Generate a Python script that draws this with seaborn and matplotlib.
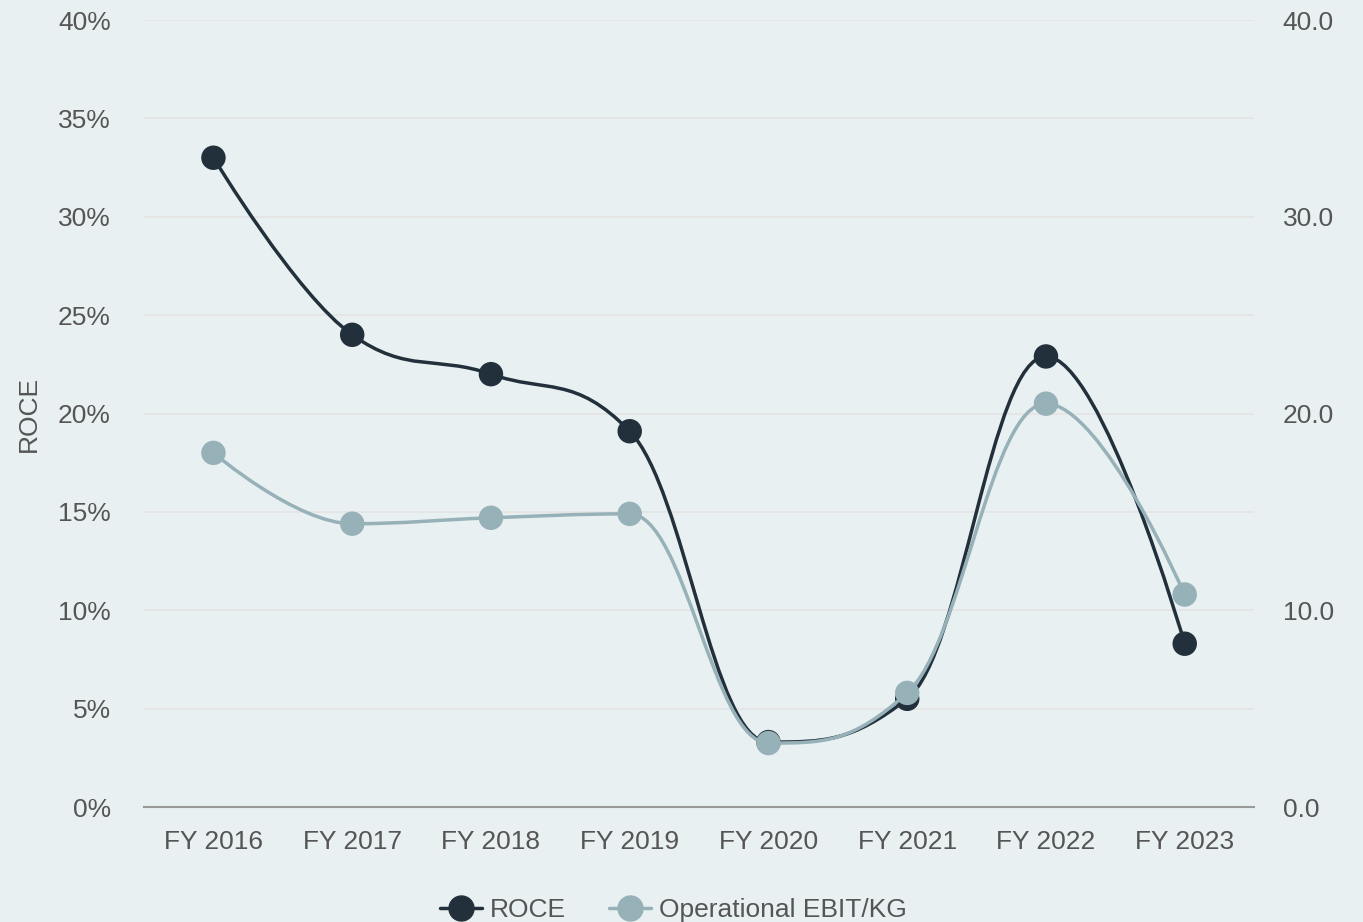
import numpy as np
import pandas as pd
import seaborn as sns
import matplotlib.pyplot as plt
from matplotlib.path import Path
from matplotlib.patches import PathPatch
from matplotlib.lines import Line2D
from matplotlib.ticker import FuncFormatter

years = ["FY 2016", "FY 2017", "FY 2018", "FY 2019", "FY 2020", "FY 2021", "FY 2022", "FY 2023"]
roce = [33.0, 24.0, 22.0, 19.1, 3.3, 5.5, 22.9, 8.3]
ebit_kg = [18.0, 14.4, 14.7, 14.9, 3.25, 5.8, 20.5, 10.8]

BG = "#e8f0f2"
DARK = "#22303c"
LIGHT = "#97b1b8"
TXT = "#555555"
FS = 19


def spline_path(xs, ys, smoothing=1.5):
    # highcharts-like spline, built as cubic bezier segments
    n = len(xs)
    lc = [(xs[i], ys[i]) for i in range(n)]
    rc = [(xs[i], ys[i]) for i in range(n)]
    for i in range(1, n - 1):
        x, y = xs[i], ys[i]
        lx, ly = xs[i - 1], ys[i - 1]
        nx, ny = xs[i + 1], ys[i + 1]
        d = smoothing + 1
        lcx = (smoothing * x + lx) / d
        lcy = (smoothing * y + ly) / d
        rcx = (smoothing * x + nx) / d
        rcy = (smoothing * y + ny) / d
        corr = (rcy - lcy) * (rcx - x) / (rcx - lcx) + y - rcy
        lcy += corr
        rcy += corr
        if lcy > ly and lcy > y:
            lcy = max(ly, y)
            rcy = 2 * y - lcy
        elif lcy < ly and lcy < y:
            lcy = min(ly, y)
            rcy = 2 * y - lcy
        if rcy > ny and rcy > y:
            rcy = max(ny, y)
            lcy = 2 * y - rcy
        elif rcy < ny and rcy < y:
            rcy = min(ny, y)
            lcy = 2 * y - rcy
        lc[i] = (lcx, lcy)
        rc[i] = (rcx, rcy)
    verts = [(xs[0], ys[0])]
    codes = [Path.MOVETO]
    for i in range(1, n):
        verts += [rc[i - 1], lc[i], (xs[i], ys[i])]
        codes += [Path.CURVE4] * 3
    return Path(verts, codes)


sns.set_theme(style="white")
plt.rcParams["font.family"] = ["Liberation Sans", "DejaVu Sans"]

df = pd.DataFrame({"year": years, "x": np.arange(len(years)), "roce": roce, "ebit": ebit_kg})

fig = plt.figure(figsize=(13.63, 9.22), dpi=100, facecolor=BG)
ax = fig.add_axes([0.1057, 0.1247, 0.8144, 0.8536])
ax.set_facecolor(BG)
ax2 = ax.twinx()

ax.set_xlim(-0.5, len(years) - 0.5)
ax.set_ylim(0, 40)
ax2.set_ylim(0, 40)

ax.set_yticks(np.arange(0, 41, 5))
ax.yaxis.set_major_formatter(FuncFormatter(lambda v, p: f"{v:.0f}%"))
ax2.set_yticks(np.arange(0, 41, 10))
ax2.yaxis.set_major_formatter(FuncFormatter(lambda v, p: f"{v:.1f}"))
ax.set_xticks(df["x"])
ax.set_xticklabels(years)

ax.grid(axis="y", color="#e6e3e3", linewidth=1.2)
ax.set_axisbelow(True)
for a in (ax, ax2):
    for s in a.spines.values():
        s.set_visible(False)
ax.spines["bottom"].set_visible(True)
ax.spines["bottom"].set_color("#999999")
ax.spines["bottom"].set_linewidth(1.5)

ax.tick_params(axis="y", length=0, pad=24, labelsize=FS, labelcolor=TXT)
ax.tick_params(axis="x", length=0, pad=16.5, labelsize=FS, labelcolor=TXT)
ax2.tick_params(axis="y", length=0, pad=20.5, labelsize=FS, labelcolor=TXT)
ax.set_ylabel("ROCE", fontsize=FS, color=TXT, labelpad=12)

ax.add_patch(PathPatch(spline_path(df["x"].tolist(), df["roce"].tolist()),
                       facecolor="none", edgecolor=DARK, lw=2.5, zorder=3))
ax2.add_patch(PathPatch(spline_path(df["x"].tolist(), df["ebit"].tolist()),
                        facecolor="none", edgecolor=LIGHT, lw=2.5, zorder=3))
sns.scatterplot(data=df, x="x", y="roce", ax=ax, s=310, color=DARK, edgecolor="none", zorder=4)
sns.scatterplot(data=df, x="x", y="ebit", ax=ax2, s=310, color=LIGHT, edgecolor="none", zorder=4)
ax.set_xlabel("")
ax2.set_xlabel("")
ax2.set_ylabel("")

handles = [Line2D([], [], color=DARK, lw=2.5, marker="o", markersize=18),
           Line2D([], [], color=LIGHT, lw=2.5, marker="o", markersize=18)]
fig.legend(handles, ["ROCE", "Operational EBIT/KG"], loc="center", bbox_to_anchor=(0.494, 0.013),
           ncol=2, frameon=False, fontsize=FS, labelcolor=TXT, handlelength=1.6,
           handletextpad=0.3, columnspacing=1.6)

fig.savefig("out.png", dpi=100, facecolor=BG)
